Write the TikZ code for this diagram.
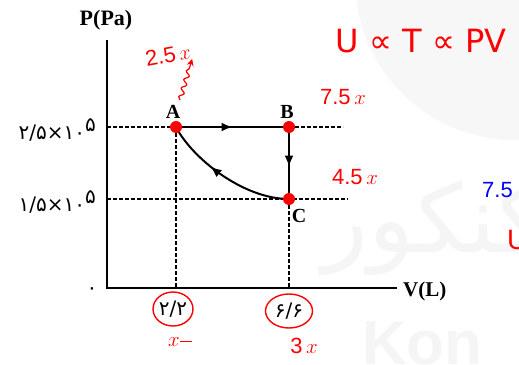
\documentclass[tikz,border=0pt]{standalone}
\usepackage{fontspec}
\setmainfont{Liberation Serif}
\newfontfamily\pfont{DejaVu Sans}
\newfontfamily\arabicfont[Script=Arabic]{DejaVu Sans}
\newfontfamily\hand{Liberation Sans}
\TeXXeTstate=1
\usetikzlibrary{arrows.meta,decorations.markings,decorations.pathmorphing,shapes.geometric}
\tikzset{
  axisline/.style={line width=2.2pt},
  guide/.style={line width=2pt, dash pattern=on 3.5pt off 2.5pt},
  proc/.style={line width=2pt},
  rdot/.style={circle, fill=red, inner sep=0pt, minimum size=12pt},
  lbl/.style={font=\bfseries\fontsize{20}{20}\selectfont, inner sep=0pt},
  ticklbl/.style={font=\pfont\fontsize{20}{20}\selectfont, inner sep=0pt},
  circled/.style={ellipse, draw=red, line width=1.4pt, inner sep=0pt, minimum width=40pt, minimum height=34pt},
  note/.style={text=red, font=\hand\fontsize{22}{22}\selectfont, inner sep=0pt},
  midarrow/.style={postaction={decorate}, decoration={markings, mark=at position #1 with {\arrow{Latex[length=11pt,width=9pt]}}}},
  midarrow/.default=0.5,
  wmark/.style={text=black!4, inner sep=0pt},
}
\begin{document}
\begin{tikzpicture}[x=1pt,y=-1pt]
\useasboundingbox (0,0) rectangle (519,364);
% background watermark
\fill[black!3] (515,-20) circle (160);
\node[wmark, font=\arabicfont\fontsize{95}{95}\selectfont, anchor=west] (wm1) at (322,228) {\beginR کنکور\endR};
\node[wmark, font=\hand\bfseries\fontsize{62}{62}\selectfont, anchor=north west] (wm2) at (362,322) {Kon};
% axes
\coordinate (O) at (107,288);
\coordinate (Ytop) at (107,40);
\coordinate (Xend) at (397,288);
\draw[axisline] (Ytop) -- (O) -- (Xend);
\node[lbl, font=\bfseries\fontsize{22}{22}\selectfont] (ylab) at (106,20) {P(Pa)};
\node[lbl, font=\bfseries\fontsize{21}{21}\selectfont, anchor=west] (xlab) at (403,291) {V(L)};
% states
\coordinate (A) at (176,127);
\coordinate (B) at (289,127);
\coordinate (C) at (289,199);
\coordinate (Bend) at (343,127);
\coordinate (Cend) at (348,199);
% guides
\draw[guide] (O |- A) -- (A);
\draw[guide] (B) -- (Bend);
\draw[guide] (O |- C) -- (Cend);
\draw[guide] (A) -- (A |- O);
\draw[guide] (C) -- (C |- O);
% processes
\draw[proc, midarrow] (A) -- (B);
\draw[proc, midarrow=0.55] (B) -- (C);
\draw[proc, midarrow=0.62] (C) .. controls (243,199) and (192,158) .. (A);
\node[rdot] (Ad) at (A) {};
\node[rdot] (Bd) at (B) {};
\node[rdot] (Cd) at (C) {};
\node[lbl] (Alab) at (173,112) {A};
\node[lbl] (Blab) at (287,112) {B};
\node[lbl] (Clab) at (299,216) {C};
% tick labels
\node[ticklbl, anchor=east] (p1) at (96,130) {۲/۵×۱۰\raisebox{8pt}{۵}};
\node[ticklbl, anchor=east] (p2) at (96,202) {۱/۵×۱۰\raisebox{8pt}{۵}};
\node[ticklbl] (o) at (92,291) {۰};
\node[ticklbl, circled] (v1) at (173,309) {۲/۲};
\node[ticklbl, circled, minimum width=47pt] (v2) at (289,311) {۶/۶};
% annotations
\node[note, rotate=10] (u25) at (168,55) {2.5\,$x$};
\draw[red, line width=1.2pt, -{Stealth[length=7pt,width=7pt,open]}, decorate, decoration={snake, amplitude=2.2pt, segment length=9pt, post length=6pt}] (180,100) -- (u25.south east);
\node[note] (u75) at (343,97) {7.5\,$x$};
\node[note] (u45) at (355,177) {4.5\,$x$};
\node[note] (x1) at (180,342) {$x$\raisebox{4pt}{\rule{12pt}{1.3pt}}};
\node[note] (x3) at (304,346) {3\,$x$};
\node[text=red, font=\pfont\fontsize{32}{32}\selectfont, inner sep=0pt] (law) at (421,41) {U ∝ T ∝ PV};
\node[text=blue, font=\hand\fontsize{22}{22}\selectfont, inner sep=0pt, anchor=west] (b75) at (482,190) {7.5};
\node[note, font=\hand\fontsize{28}{28}\selectfont, anchor=west] (ru) at (507,240) {U};
\end{tikzpicture}
\end{document}
